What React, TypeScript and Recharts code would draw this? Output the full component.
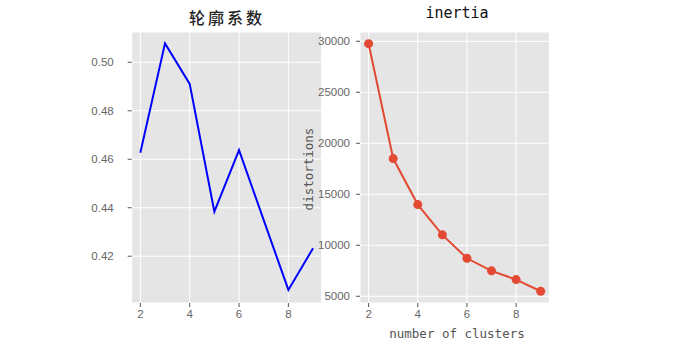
import React from "react";
import { LineChart, Line, XAxis, YAxis, CartesianGrid } from "recharts";

const clusters = [2, 3, 4, 5, 6, 7, 8, 9];
const silhouette = [0.4627, 0.5078, 0.4911, 0.4384, 0.4638, 0.4349, 0.4061, 0.4233];
const distortions = [29765, 18500, 13990, 11020, 8725, 7490, 6637, 5490];

const xTicks = [2, 4, 6, 8];
const silTicks = [0.42, 0.44, 0.46, 0.48, 0.5];
const distTicks = [5000, 10000, 15000, 20000, 25000, 30000];

const silData = clusters.map((k, i) => ({ k, v: silhouette[i] }));
const distData = clusters.map((k, i) => ({ k, v: distortions[i] }));

const tickStyle = { fill: "#666", fontSize: 11.5, fontFamily: "Liberation Sans" };
const monoFont = "DejaVu Sans Mono";

export default function App() {
  return (
    <div
      style={{
        position: "absolute",
        left: 0,
        top: 0,
        width: 679,
        height: 353,
        background: "#fff",
        overflow: "hidden",
      }}
    >
      <div style={{ position: "absolute", left: 0, top: 0 }}>
        <LineChart
          width={340}
          height={353}
          data={silData}
          margin={{ top: 32, right: 18.3, bottom: 20, left: 91.7 }}
        >
          <CartesianGrid stroke="#fff" fill="#E5E5E5" strokeWidth={1} />
          <XAxis
            dataKey="k"
            type="number"
            domain={[1.65, 9.35]}
            ticks={xTicks}
            axisLine={false}
            tickLine={{ stroke: "#555" }}
            tickSize={4}
            tickMargin={3}
            height={30}
            tick={tickStyle}
            allowDataOverflow
          />
          <YAxis
            type="number"
            domain={[0.4007, 0.5125]}
            ticks={silTicks}
            axisLine={false}
            tickLine={{ stroke: "#555" }}
            tickSize={4}
            tickMargin={14}
            width={40}
            tick={tickStyle}
            tickFormatter={(v: number) => v.toFixed(2)}
            allowDataOverflow
          />
          <Line
            dataKey="v"
            stroke="#0000FF"
            strokeWidth={2}
            dot={false}
            isAnimationActive={false}
          />
        </LineChart>
      </div>
      <div style={{ position: "absolute", left: 300, top: 0 }}>
        <LineChart
          width={260}
          height={353}
          data={distData}
          margin={{ top: 32, right: 10.7, bottom: 20, left: 10 }}
        >
          <CartesianGrid stroke="#fff" fill="#E5E5E5" strokeWidth={1} />
          <XAxis
            dataKey="k"
            type="number"
            domain={[1.65, 9.35]}
            ticks={xTicks}
            axisLine={false}
            tickLine={{ stroke: "#555" }}
            tickSize={4}
            tickMargin={3}
            height={30}
            tick={tickStyle}
            allowDataOverflow
          />
          <YAxis
            type="number"
            domain={[4340, 30910]}
            ticks={distTicks}
            axisLine={false}
            tickLine={{ stroke: "#555" }}
            tickSize={4}
            tickMargin={6}
            width={50}
            tick={tickStyle}
            allowDataOverflow
          />
          <Line
            dataKey="v"
            stroke="#E24A33"
            strokeWidth={2}
            dot={{ r: 4.5, fill: "#E24A33", stroke: "none" }}
            isAnimationActive={false}
          />
        </LineChart>
      </div>
      <div
        style={{
          position: "absolute",
          left: 227,
          top: 5,
          transform: "translateX(-50%)",
          fontFamily: "Noto Sans CJK SC",
          fontSize: 16,
          fontWeight: 500,
          letterSpacing: 3,
          color: "#222",
          whiteSpace: "nowrap",
        }}
      >
        轮廓系数
      </div>
      <div
        style={{
          position: "absolute",
          left: 457,
          top: 4,
          transform: "translateX(-50%)",
          fontFamily: monoFont,
          fontSize: 15,
          color: "#111",
          whiteSpace: "nowrap",
        }}
      >
        inertia
      </div>
      <div
        style={{
          position: "absolute",
          left: 457,
          top: 326,
          transform: "translateX(-50%)",
          fontFamily: monoFont,
          fontSize: 12.5,
          color: "#555",
          whiteSpace: "nowrap",
        }}
      >
        number of clusters
      </div>
      <div
        style={{
          position: "absolute",
          left: 308,
          top: 169,
          transform: "translate(-50%, -50%) rotate(-90deg)",
          fontFamily: monoFont,
          fontSize: 12.5,
          color: "#555",
          whiteSpace: "nowrap",
        }}
      >
        distortions
      </div>
    </div>
  );
}
